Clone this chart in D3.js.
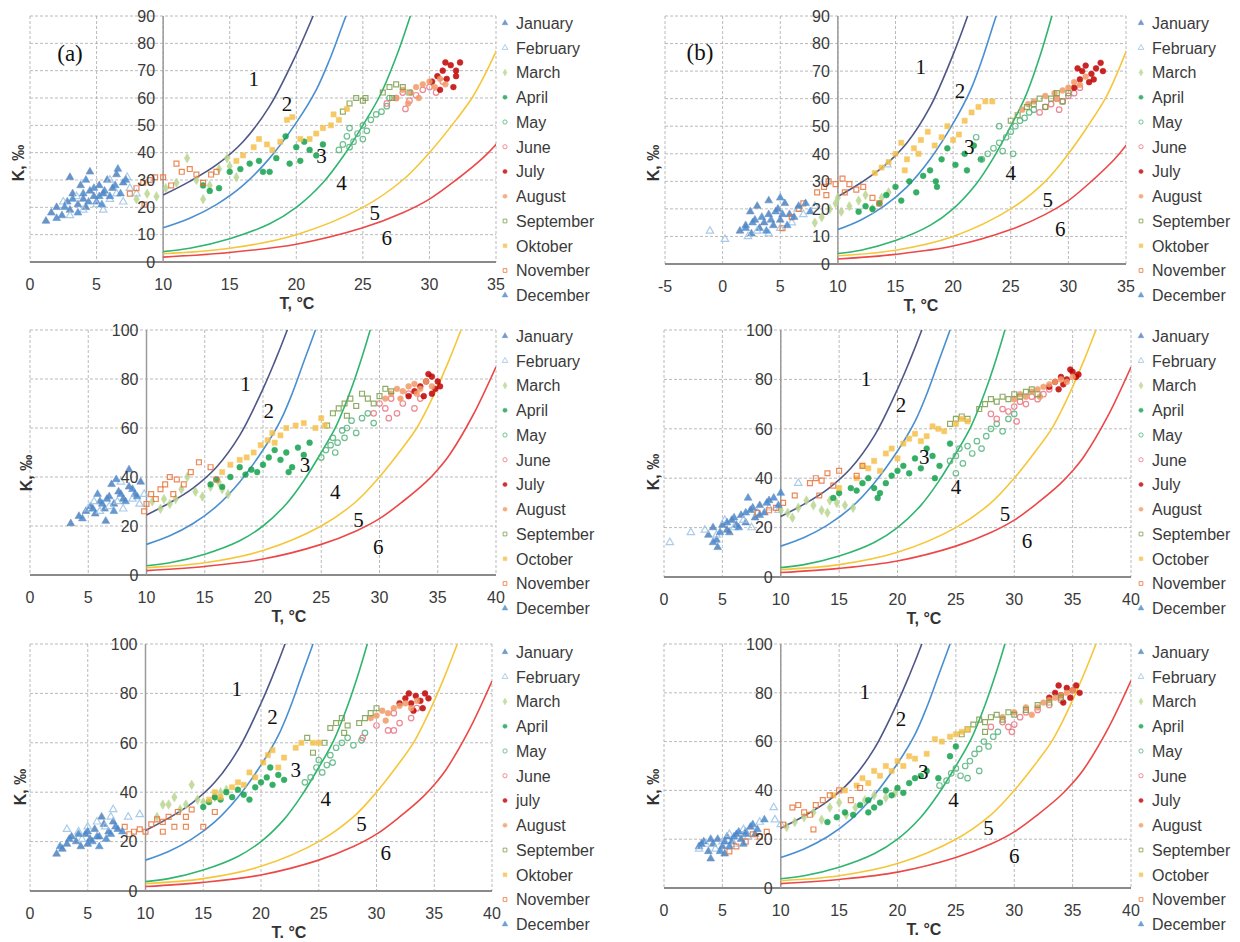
<!DOCTYPE html>
<html>
<head>
<meta charset="utf-8">
<script src="https://cdn.jsdelivr.net/npm/d3@7"></script>
<style>
  body { margin: 0; background: #fff; }
  text { font-family: Arial, "Liberation Sans", sans-serif; }
  text.serif { font-family: "Liberation Serif", "DejaVu Serif", serif; }
</style>
</head>
<body>
<svg id="chart" width="1240" height="942"></svg>
<script>
// ---------- data ----------
const monthsOktober = ["January","February","March","April","May","June","July","August","September","Oktober","November","December"];
const monthsOctober = ["January","February","March","April","May","June","July","August","September","October","November","December"];
const monthsJulyLow = ["January","February","March","April","May","June","july","August","September","Oktober","November","December"];
const monthsOctJuly = ["January","February","March","April","May","June","July","August","September","October","November","December"];

const xTicks35 = [0,5,10,15,20,25,30,35];
const xTicksB1 = [-5,0,5,10,15,20,25,30,35];
const xTicks40 = [0,5,10,15,20,25,30,35,40];
const yTicks90 = [0,10,20,30,40,50,60,70,80,90];
const yTicks100 = [0,20,40,60,80,100];

const curveNames = ["1","2","3","4","5","6"];

// curves (same in every panel)
const curve1 = [[10,24.5],[12,29.5],[14,35.5],[16,44],[18,57],[20,76],[21,87],[22,99],[22.6,107]];
const curve2 = [[10,12.5],[12,16],[14,21],[16,28],[18,38],[20,51],[21.5,63],[22.5,74],[23.5,87],[24.5,100],[25,107]];
const curve3 = [[10,3.8],[12,5],[15,8.5],[18,14],[20,20],[22,29],[23.5,38.5],[25,50],[26.3,61],[27.5,75],[28.5,89],[29.2,100],[29.6,107]];
const curve4 = [[10,3],[15,5],[20,10],[25,20],[28,30],[30,40],[32,52],[33.2,60],[34,67],[35,77],[36,88],[37,100],[37.5,106]];
const curve5 = [[10,1.8],[15,3.5],[20,6.5],[25,12.5],[28,18],[30,23],[32,30],[34,38],[35,43],[36,49],[38,65],[40,85]];

// points per month: Jan..Dec, [T, K]
const ptsA1 = [
  [[1.2,15],[1.6,18],[2,20],[2.4,17],[2.8,22],[3,19],[3.2,25],[3.6,21],[3.8,28],[4,23],[4.2,20],[4.5,26],[4.8,24],[5,22],[5.2,28],[5.5,25],[5.8,30],[6.2,27],[6.5,32],[7,29],[3,31],[4.5,33]],
  [[2.5,22],[3,17],[3.5,24],[4,19],[5,21],[5.5,19],[6,23],[6.5,25],[7,22],[7.5,27],[8,25],[6,30],[7.3,31]],
  [[8,23],[8.8,25],[9.5,24],[10.2,27],[11,29],[11.8,38],[12.5,30],[13,23],[13.5,28],[14.2,34],[15,35],[15.5,31],[14.8,38]],
  [[13,28],[13.5,26],[14.2,27],[15,33],[15.8,34],[16.5,36],[17.2,37],[17.5,33],[18,33],[18.5,38],[19.2,46],[19.5,36],[20,42],[20.6,44],[21,41],[21.5,39],[22,43],[20.3,37]],
  [[23.2,41],[23.5,43],[23.8,46],[24,49],[24.3,44],[24.6,47],[25,50],[25.3,48],[25.6,52],[26,54],[26.4,55],[26.8,57],[27,60],[25,45],[24,42]],
  [[26.8,58],[27.5,60],[28,62],[28.5,59],[29,61],[29.5,63],[30,64],[30.5,62],[28.2,56],[31,66]],
  [[30.2,66],[30.6,68],[31,70],[31.3,67],[31.6,72],[32,70],[32.3,73],[31.8,64],[30.8,63],[32,68],[31.2,73]],
  [[27.5,60],[28,63],[28.6,62],[29,64],[29.5,65],[30,66],[30.4,64],[30.8,67],[31.2,65],[29.2,60],[28.4,58]],
  [[23.5,55],[24,58],[24.5,60],[25,59],[25.2,60],[26.5,62],[27,64],[27.5,65],[28,64],[28.5,62],[27.2,60]],
  [[15.5,37],[16,39],[16.8,42],[17.2,45],[17.8,43],[18.2,41],[18.8,44],[19.3,52],[19.7,53],[20.3,45],[21,45],[21.5,47],[22,49],[22.6,50],[23.2,52],[23.8,56],[22.8,54]],
  [[7.5,25],[8,27],[8.5,29],[9,30],[9.4,31],[10,31],[10.6,28],[11,36],[11.4,33],[12,34],[12.5,32],[13,29],[13.6,32],[14,33],[8.6,21]],
  [[2,16],[2.6,20],[3.2,23],[3.6,18],[4,25],[4.4,22],[4.8,27],[5.2,24],[5.6,26],[6,24],[6.4,28],[6.8,25],[7.2,30],[5.4,21],[4.2,30],[6.6,34]]
];

const ptsA2 = [
  [[3.5,21],[4.2,24],[4.8,26],[5.2,28],[5.6,25],[6,30],[6.4,27],[6.8,32],[7.2,29],[7.6,34],[8,31],[8.5,36],[9,33],[9.5,38],[6.5,22],[7,37],[8.5,43]],
  [[5,27],[5.5,30],[6,26],[6.8,28],[7.5,30],[8,27],[8.8,31],[9.4,29],[9.8,33],[7.8,38]],
  [[10.5,30],[11.2,27],[12,29],[12.5,31],[13,35],[13.5,40],[14.2,34],[14.8,32],[15.5,36],[16.2,38],[17,33],[16.5,35],[11.5,31]],
  [[15.5,37],[16,39],[16.5,36],[17.2,40],[18,44],[18.5,41],[19,43],[19.5,42],[20,45],[20.5,48],[21,51],[21.5,47],[22,50],[22.5,44],[23,52],[23.5,49],[24,54],[22.2,42]],
  [[25,48],[25.4,51],[25.8,53],[26,56],[26.4,54],[26.8,59],[27.2,60],[27.6,63],[28,58],[28.5,64],[29,66],[26.2,50],[27,56],[29.5,62]],
  [[29.5,66],[30,70],[30.5,68],[31,72],[31.5,66],[32,70],[32.5,74],[33,68],[33.5,72],[30.8,64]],
  [[32.5,73],[33,75],[33.5,77],[34,79],[34.5,81],[35,79],[34.8,76],[34.2,82],[33.8,73],[35.2,77],[34.5,74]],
  [[30.5,72],[31,74],[31.5,76],[32,75],[32.5,77],[33,78],[33.5,76],[34,79],[34.5,77],[31.8,72],[33.2,74]],
  [[26,66],[26.5,68],[27,70],[27.5,72],[28,69],[28.5,74],[29,72],[29.5,70],[30,73],[30.5,76],[31,75],[27.2,65],[25.5,61]],
  [[16.5,42],[17.2,45],[18,47],[18.6,48],[19.2,50],[19.8,53],[20.4,55],[21,54],[21.5,57],[22,60],[22.8,61],[23.5,62],[24.5,60],[25,64],[25.3,61],[20.8,58]],
  [[9.8,26],[10,29],[10.4,33],[10.8,31],[11.2,35],[11.6,37],[12,40],[12.6,39],[13.2,37],[13.8,42],[14.5,46],[15.5,44],[16,39],[12.3,33]],
  [[4.5,23],[5.4,27],[6.2,29],[6.6,31],[7.2,26],[7.8,33],[8.2,30],[8.8,35],[9.2,32],[5.8,33],[7.4,39]]
];

const ptsA3 = [
  [[2.3,15],[2.8,17],[3.2,19],[3.6,22],[4,20],[4.4,18],[4.8,23],[5.2,21],[5.6,25],[6,22],[6.4,27],[6.8,24],[7.2,28],[7.6,25],[5,19],[6.2,30]],
  [[3.2,25],[4.2,24],[5,26],[5.8,28],[6.5,26],[7,30],[7.2,33],[8.5,30],[9.5,31],[4.5,21]],
  [[11,30],[12,35],[12.5,38],[13,33],[13.5,35],[14,43],[14.5,37],[15,36],[16,38],[16.5,40],[17,41],[11.5,35]],
  [[15,34],[15.5,36],[16,38],[16.5,37],[17,40],[17.5,38],[18,41],[18.5,39],[19,37],[19.5,42],[20,44],[20.5,46],[21,43],[21.5,47],[22,45],[20.8,50]],
  [[23.8,44],[24.3,46],[24.8,50],[25,53],[25.3,48],[25.7,51],[26,55],[26.5,58],[27,60],[27.5,62],[28,59],[28.7,61],[29,64],[26.2,52]],
  [[28.8,62],[30,67],[31,65],[31.5,65],[32,68],[33,70],[31.5,72],[33.5,74]],
  [[32,76],[32.5,78],[33,76],[33.4,79],[33.8,77],[34.2,80],[34.5,78],[33.2,73],[34,74],[32.8,80]],
  [[29.5,70],[30,71],[30.5,73],[31,72],[31.5,74],[32,75],[32.5,76],[33,74],[33.5,77],[30.8,69]],
  [[24,62],[24.5,56],[25.5,60],[26,66],[26.5,68],[27,70],[27.5,67],[28.5,68],[29,70],[29.5,72],[30,74],[27.2,64]],
  [[15.5,37],[16,40],[16.5,38],[17.5,42],[18,44],[18.5,43],[19,48],[19.5,46],[20.2,52],[20.6,55],[21,57],[22,54],[23,58],[23.5,60],[24.5,60],[25,60],[21.5,50]],
  [[8.2,26],[8.6,23],[9,24],[9.5,25],[10,24],[10.5,27],[11,29],[11.5,28],[12,30],[12.8,32],[13.5,30],[14,33],[11.5,24],[12.5,26],[13.5,26],[15,26],[16,32]],
  [[2.6,18],[3.4,21],[4.2,23],[5,24],[5.4,20],[5.8,22],[6.6,21],[7,23],[7.4,26],[8,24],[6,18]]
];

const ptsB1 = [
  [[1.5,12],[2,14],[2.5,11],[2.8,16],[3.2,13],[3.6,15],[4,18],[4.4,14],[4.8,20],[5,16],[5.4,22],[5.8,18],[3,21],[4,23],[2.4,19]],
  [[-1.1,12],[0.2,9],[2.2,10],[3,12],[4,11],[5,13],[6,15],[7,18],[8,21],[6.5,20],[14.3,36]],
  [[8,15],[8.6,17],[9.3,20],[9.8,22],[10.3,19],[11,21],[11.8,23],[12.4,25],[13,20],[13.8,24],[14.4,26],[10,24]],
  [[11.8,19],[12.4,21],[13,20],[13.6,22],[14.2,25],[15,28],[15.5,23],[16.2,30],[16.8,26],[17.4,32],[18,34],[18.5,30],[19,38],[19.5,42],[20.2,36],[21,40],[21.8,43],[22.4,38],[18.6,28],[21.2,34]],
  [[22.5,38],[23,40],[23.5,42],[24,44],[24.3,41],[24.6,46],[25,48],[25.4,50],[25.8,52],[26.2,53],[26.6,55],[27,56],[24,50],[22,46],[25.2,40]],
  [[27.5,55],[28,57],[28.5,58],[29,60],[29.5,59],[30,61],[30.5,62],[29.2,56],[31,64]],
  [[30.5,64],[31,67],[31.2,70],[31.5,72],[32,69],[32.4,71],[32.8,73],[33,70],[31.8,66],[30.8,71],[32.2,67]],
  [[26,56],[26.5,58],[27,59],[28,61],[28.8,62],[29.5,63],[30,64],[30.5,66],[31,65],[31.5,68],[29,60]],
  [[25,52],[25.6,54],[26.4,57],[27,58],[27.5,60],[28,57],[28.5,60],[29,62],[29.5,59],[30,62]],
  [[13.2,33],[13.8,35],[14.4,37],[15,40],[15.5,44],[16,38],[16.6,42],[17.2,45],[17.8,48],[18.4,43],[19,46],[19.5,50],[20,45],[20.5,47],[21,52],[21.6,55],[22.2,57],[22.8,59],[23.4,59],[15.8,34],[17,40]],
  [[5.2,13],[6,17],[6.6,20],[7,22],[8.2,26],[8.8,28],[9.2,30],[9.8,29],[10.4,31],[11,29],[11.6,27],[12.2,28],[13,24],[13.6,22],[10.6,26],[9,25]],
  [[2,13],[2.6,15],[3.4,17],[3.8,12],[4.2,16],[4.6,19],[5.2,18],[5.6,14],[6.2,17],[6.6,21],[7.2,22],[7.6,19],[5,24]]
];

const ptsB2 = [
  [[3.8,17],[4.2,20],[4.5,15],[4.6,12],[5,21],[5.4,19],[5.8,23],[6.2,21],[6.6,25],[7,22],[7.4,27],[7.8,24],[8.2,29],[8.6,26],[9,31],[5.6,18]],
  [[0.5,14],[2.3,18],[3.5,19],[4.5,17],[5.2,23],[6,20],[6.8,23],[7.5,20],[8,26],[9,28],[9.8,27],[11.5,38]],
  [[10,27],[10.6,26],[11.5,28],[12.2,31],[12.8,29],[13.5,27],[14.2,31],[14.8,30],[15.5,29],[16.2,28],[14,26],[11,24]],
  [[14.5,32],[15,34],[16,36],[16.5,35],[17,38],[17.5,40],[18,36],[18.5,34],[19,38],[19.5,41],[20,43],[20.5,45],[21,42],[21.5,48],[22,44],[22.5,52],[23,49],[23.6,45],[24.5,54],[18.3,32],[23.2,40]],
  [[24.5,47],[25,49],[25.3,52],[25.6,46],[26,53],[26.4,50],[26.8,55],[27.2,52],[27.6,57],[28,60],[28.5,62],[29,59],[29.5,64],[30,66],[25,42]],
  [[28,66],[28.5,64],[29,68],[29.5,67],[30,69],[30.5,71],[31,70],[31.5,73],[32,72],[32.5,74],[33,76],[30.2,63]],
  [[33,77],[33.5,79],[34,81],[34.5,80],[35,83],[35.3,81],[34.8,84],[34.2,78],[35.5,82],[33.8,76]],
  [[30,72],[30.5,74],[31,73],[31.5,75],[32,76],[32.5,77],[33,78],[33.5,79],[34,80],[34.5,79],[35,81],[32.2,73]],
  [[24.5,62],[25,64],[25.5,65],[26,64],[27,68],[27.5,70],[28,72],[28.5,71],[29,73],[29.5,72],[30,74],[30.5,73],[31,75],[31.5,76],[32,74]],
  [[15,36],[16.5,40],[17,45],[17.5,44],[18,47],[18.5,43],[19,50],[19.5,52],[20,48],[20.5,54],[21,56],[21.5,58],[22,55],[22.5,57],[23,61],[23.5,60],[24,59],[25,62],[25.5,64],[26,63]],
  [[8,26],[9,27],[9.6,28],[10.2,30],[11.2,33],[12.5,38],[13,40],[13.5,39],[14,42],[14.5,37],[15,43],[13.3,33],[16.5,41],[17,45]],
  [[4.2,14],[4.8,18],[5.4,22],[6,24],[6.4,20],[7,26],[7.6,28],[8.2,25],[8.8,30],[9.4,32],[9.8,29],[10,34],[7.2,32]]
];

const ptsB3 = [
  [[3,17],[3.4,19],[3.8,15],[4,12],[4.2,18],[4.6,20],[5,17],[5.4,21],[5.8,19],[6.2,22],[6.6,20],[7,23],[7.4,25],[7.8,22],[5.2,14]],
  [[3,16],[3.6,18],[4.4,16],[5,19],[5.6,22],[6,18],[6.8,24],[7.2,21],[8.2,27],[9.5,28],[10,26],[9.4,33]],
  [[10.5,25],[11.2,27],[12,29],[12.8,31],[13.5,28],[14.2,33],[15,35],[15.6,30],[16.4,33],[17.2,36],[18,38],[19,37],[19.8,39]],
  [[14,27],[14.8,29],[15.5,31],[16.2,30],[16.8,34],[17.5,36],[18,33],[18.5,35],[19,40],[19.5,38],[20,41],[20.5,39],[21,43],[21.5,45],[22,46],[22.5,48],[23.5,45],[24.5,54],[25,58],[17.5,31]],
  [[23.6,42],[24.2,44],[24.6,47],[25,49],[25.4,46],[25.8,50],[26.2,52],[26.6,55],[27,57],[27.4,60],[27.8,58],[28.2,62],[28.6,64],[26,45],[27,48]],
  [[28,66],[29,68],[29.5,66],[30,67],[30.5,70],[31,72],[32,73],[33,75],[34,77],[29.8,64]],
  [[33,78],[33.5,80],[34,79],[34.5,82],[35,81],[35.3,83],[34.8,78],[35.6,80],[34.2,76],[33.8,83]],
  [[29,70],[30,72],[31,74],[32,74],[32.5,76],[33,77],[33.5,78],[34,79],[34.5,80],[35,81],[31.5,71]],
  [[25.5,63],[26,65],[26.5,67],[27,69],[27.5,68],[28,70],[28.5,71],[29,69],[29.5,72],[30,71],[31,73],[32,75],[33,76],[34,78],[27.5,64]],
  [[14.5,38],[15.5,40],[16.5,42],[17,45],[17.5,43],[18,48],[18.5,46],[19,50],[19.5,48],[20,52],[20.5,50],[21,54],[21.5,53],[22.5,55],[23.2,61],[23.8,60],[24.5,62],[25,63],[25.5,64],[26,65]],
  [[5.6,15],[6.2,17],[7,19],[7.6,22],[8.2,21],[8.8,23],[10.2,26],[11,33],[11.5,34],[12,31],[12.5,30],[13,34],[13.6,36],[14.2,38],[15,40],[12.8,24],[16,36],[16.8,41]],
  [[3.2,18],[4,20],[4.8,15],[5.2,19],[5.6,17],[6,21],[6.4,23],[7,22],[7.6,26],[8,24],[8.6,28],[6.8,18]]
];

// ---------- styles ----------
const monthStyle = [
  {sym: d3.symbolTriangle, fill: "#4f81bd", stroke: "#4f81bd"},
  {sym: d3.symbolTriangle, fill: "none",    stroke: "#9cc3e4"},
  {sym: d3.symbolDiamond,  fill: "#b9d58f", stroke: "#b9d58f"},
  {sym: d3.symbolCircle,   fill: "#12a04c", stroke: "#12a04c"},
  {sym: d3.symbolCircle,   fill: "none",    stroke: "#55b47c"},
  {sym: d3.symbolCircle,   fill: "none",    stroke: "#ea7482"},
  {sym: d3.symbolCircle,   fill: "#c00000", stroke: "#c00000"},
  {sym: d3.symbolCircle,   fill: "#f29a66", stroke: "#f29a66"},
  {sym: d3.symbolSquare,   fill: "none",    stroke: "#7c9d4c"},
  {sym: d3.symbolSquare,   fill: "#f5c04a", stroke: "#f5c04a"},
  {sym: d3.symbolSquare,   fill: "none",    stroke: "#e8743b"},
  {sym: d3.symbolTriangle, fill: "#4a88cc", stroke: "#4a88cc"}
];
const curveColors = ["#4e5788", "#4a8fd0", "#2fb56e", "#f6c63a", "#ec4848"];
const curves = [curve1, curve2, curve3, curve4, curve5];

const panels = [
  {key: "A1", pts: ptsA1, names: monthsOktober, xd: [0,35], yd: [0,90], xt: xTicks35, yt: yTicks90,
   box: [30,16,496,262], leg: [505,23], tag: "(a)", tagPos: [70,53], tTitle: "T, °C", tX: 297, kPos: [18,163],
   lbl: [[16.8,67],[19.3,58],[21.9,39],[23.4,29],[25.9,18],[26.8,9]]},
  {key: "A2", pts: ptsA2, names: monthsOctober, xd: [0,40], yd: [0,100], xt: xTicks40, yt: yTicks100,
   box: [30,330,496,575], leg: [505,336], tTitle: "T, °C", tX: 289, kPos: [26,473],
   lbl: [[18.5,78],[20.5,67],[23.6,45],[26.2,34],[28.2,22.4],[29.9,11.6]]},
  {key: "A3", pts: ptsA3, names: monthsJulyLow, xd: [0,40], yd: [0,100], xt: xTicks40, yt: yTicks100,
   box: [30,644,492,891], leg: [505,652], tTitle: "T. °C", tX: 289, kPos: [20,787],
   lbl: [[17.9,82],[21,70.6],[23,49],[25.6,37.5],[28.7,27.3],[30.8,15.6]]},
  {key: "B1", pts: ptsB1, names: monthsOktober, xd: [-5,35], yd: [0,90], xt: xTicksB1, yt: yTicks90,
   box: [665,16,1126,264], leg: [1141,23], tag: "(b)", tagPos: [700,52], tTitle: "T, °C", tX: 921, kPos: [653,163],
   lbl: [[17.2,71.8],[20.6,63],[21.4,42.6],[25,33],[28.2,23.2],[29.3,13]]},
  {key: "B2", pts: ptsB2, names: monthsOctober, xd: [0,40], yd: [0,100], xt: xTicks40, yt: yTicks100,
   box: [664,330,1131,577], leg: [1141,336], tTitle: "T, °C", tX: 924, kPos: [653,472],
   lbl: [[17.3,80.4],[20.3,69.6],[22.3,48.6],[25,36.5],[29.2,25.7],[31.1,14.9]]},
  {key: "B3", pts: ptsB3, names: monthsOctJuly, xd: [0,40], yd: [0,100], xt: xTicks40, yt: yTicks100,
   box: [664,644,1131,888], leg: [1141,652], tTitle: "T. °C", tX: 924, kPos: [653,787],
   lbl: [[17.2,80.6],[20.3,69.3],[22.2,47.8],[24.8,36.2],[27.8,24.6],[30,13.2]]}
];

// ---------- drawing ----------
const svg = d3.select("#chart");

panels.forEach(p => {
  const [x0, y0, x1, y1] = p.box;
  const x = d3.scaleLinear().domain(p.xd).range([x0, x1]);
  const y = d3.scaleLinear().domain(p.yd).range([y1, y0]);
  const g = svg.append("g").attr("class", "panel-" + p.key);

  // clip for the curves
  const clipId = "clip-" + p.key;
  svg.append("defs").append("clipPath").attr("id", clipId)
    .append("rect").attr("x", x0).attr("y", y0).attr("width", x1 - x0).attr("height", y1 - y0);

  // grid
  g.append("g").selectAll("line").data(p.xt).join("line")
    .attr("x1", d => x(d)).attr("x2", d => x(d)).attr("y1", y0).attr("y2", y1)
    .attr("stroke", "#a8a8a8").attr("stroke-width", 0.8).attr("stroke-dasharray", "3,2");
  g.append("g").selectAll("line").data(p.yt).join("line")
    .attr("x1", x0).attr("x2", x1).attr("y1", d => y(d)).attr("y2", d => y(d))
    .attr("stroke", "#a8a8a8").attr("stroke-width", 0.8).attr("stroke-dasharray", "3,2");

  // axes lines (y axis crosses at T = 10)
  g.append("line").attr("x1", x0).attr("x2", x1).attr("y1", y(0)).attr("y2", y(0))
    .attr("stroke", "#8a8a8a").attr("stroke-width", 2);
  g.append("line").attr("x1", x(10)).attr("x2", x(10)).attr("y1", y0).attr("y2", y(0))
    .attr("stroke", "#9a9a9a").attr("stroke-width", 1.5);

  // curves
  const line = d3.line().x(d => x(d[0])).y(d => y(d[1])).curve(d3.curveCatmullRom.alpha(0.5));
  g.append("g").attr("clip-path", `url(#${clipId})`)
    .selectAll("path").data(curves).join("path")
    .attr("d", line).attr("fill", "none")
    .attr("stroke", (d, i) => curveColors[i]).attr("stroke-width", 1.6);

  // points
  p.pts.forEach((series, m) => {
    const st = monthStyle[m];
    const filled = st.fill !== "none";
    g.append("g").selectAll("path").data(series).join("path")
      .attr("transform", d => `translate(${x(d[0])},${y(d[1])})`)
      .attr("d", d3.symbol().type(st.sym).size(filled ? 26 : 24))
      .attr("fill", st.fill).attr("stroke", st.stroke)
      .attr("stroke-width", filled ? 0.6 : 1.2)
      .attr("opacity", 0.85);
  });

  // tick labels
  g.append("g").selectAll("text").data(p.yt).join("text")
    .attr("x", x(10) - 8).attr("y", d => y(d)).attr("dy", "0.36em")
    .attr("text-anchor", "end").attr("font-size", 16).attr("fill", "#3a3a3a")
    .text(d => d);
  g.append("g").selectAll("text").data(p.xt).join("text")
    .attr("x", d => x(d)).attr("y", y1 + 22).attr("dy", "0.36em")
    .attr("text-anchor", "middle").attr("font-size", 16).attr("fill", "#3a3a3a")
    .text(d => d);

  // axis titles
  g.append("text").attr("x", p.tX).attr("y", y1 + 41).attr("dy", "0.36em")
    .attr("text-anchor", "middle").attr("font-size", 16).attr("font-weight", "bold")
    .attr("fill", "#333").text(p.tTitle);
  g.append("text").attr("transform", `translate(${p.kPos[0]},${p.kPos[1]}) rotate(-90)`)
    .attr("dy", "0.36em").attr("text-anchor", "middle").attr("font-size", 16)
    .attr("font-weight", "bold").attr("fill", "#333").text("K, ‰");

  // curve numbers
  g.append("g").selectAll("text").data(p.lbl).join("text")
    .attr("class", "serif")
    .attr("x", d => x(d[0])).attr("y", d => y(d[1])).attr("dy", "0.35em")
    .attr("text-anchor", "middle").attr("font-size", 21).attr("fill", "#111")
    .text((d, i) => curveNames[i]);

  if (p.tag) {
    g.append("text").attr("class", "serif")
      .attr("x", p.tagPos[0]).attr("y", p.tagPos[1]).attr("dy", "0.35em")
      .attr("text-anchor", "middle").attr("font-size", 23).attr("fill", "#111")
      .text(p.tag);
  }

  // legend
  const lg = g.append("g");
  p.names.forEach((name, m) => {
    const st = monthStyle[m];
    const ly = p.leg[1] + m * 24.75;
    lg.append("path").attr("transform", `translate(${p.leg[0]},${ly})`)
      .attr("d", d3.symbol().type(st.sym).size(14))
      .attr("fill", st.fill).attr("stroke", st.stroke).attr("stroke-width", st.fill === "none" ? 1 : 0.5)
      .attr("opacity", 0.8);
    lg.append("text").attr("x", p.leg[0] + 11).attr("y", ly).attr("dy", "0.36em")
      .attr("font-size", 16).attr("fill", "#3a3a3a").text(name);
  });
});
</script>
</body>
</html>
